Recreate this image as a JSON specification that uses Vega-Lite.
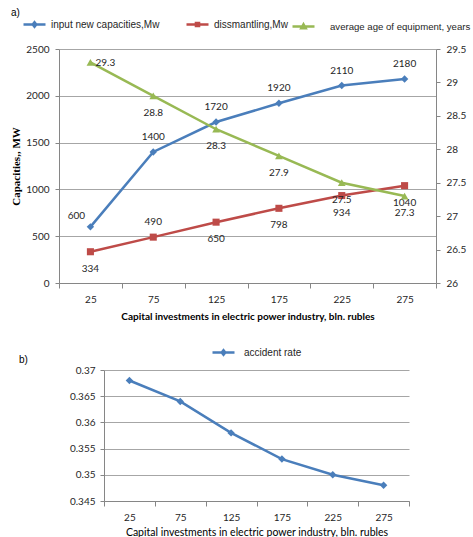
{
  "$schema": "https://vega.github.io/schema/vega-lite/v6.json",
  "padding": {"left": 10, "top": 8, "right": 0, "bottom": 0},
  "background": "white",
  "datasets": {
    "power": [
      {"inv": 25, "newcap": 600, "dismantle": 334, "age": 29.3},
      {"inv": 75, "newcap": 1400, "dismantle": 490, "age": 28.8},
      {"inv": 125, "newcap": 1720, "dismantle": 650, "age": 28.3},
      {"inv": 175, "newcap": 1920, "dismantle": 798, "age": 27.9},
      {"inv": 225, "newcap": 2110, "dismantle": 934, "age": 27.5},
      {"inv": 275, "newcap": 2180, "dismantle": 1040, "age": 27.3}
    ],
    "accidents": [
      {"inv": 25, "rate": 0.368},
      {"inv": 75, "rate": 0.364},
      {"inv": 125, "rate": 0.358},
      {"inv": 175, "rate": 0.353},
      {"inv": 225, "rate": 0.35},
      {"inv": 275, "rate": 0.348}
    ]
  },
  "config": {
    "view": {"stroke": null},
    "font": "Lato",
    "axis": {
      "labelFont": "Lato", "labelFontSize": 10, "labelColor": "#262626",
      "domainColor": "#868686", "tickColor": "#868686", "gridColor": "#a6a6a6",
      "titleFont": "Lato", "titleColor": "#000000"
    },
    "legend": {
      "labelFont": "Liberation Sans", "labelFontSize": 10, "labelLimit": 200,
      "labelColor": "#262626", "padding": 0, "orient": "none"
    },
    "text": {"font": "Lato", "fontSize": 10, "color": "#262626"}
  },
  "spacing": 34,
  "vconcat": [
    {
      "width": 377,
      "height": 234,
      "data": {"name": "power"},
      "title": {"text": "a)", "anchor": "start", "frame": "group", "dx": -48, "offset": -6,
                "font": "Liberation Sans", "fontSize": 10, "fontWeight": "normal", "color": "#000000"},
      "encoding": {
        "x": {
          "field": "inv", "type": "ordinal", "bandPosition": 0.5,
          "scale": {"type": "band", "paddingInner": 0, "paddingOuter": 0},
          "axis": {
            "title": "Capital investments in electric power industry, bln. rubles",
            "labelAngle": 0, "tickBand": "extent", "tickSize": 5, "labelPadding": 6,
            "titleFontWeight": "bold", "titleFontSize": 10, "titlePadding": 7, "grid": false
          }
        }
      },
      "layer": [
        {
          "encoding": {
            "y": {
              "field": "newcap", "type": "quantitative",
              "scale": {"domain": [0, 2500], "nice": false},
              "axis": {
                "orient": "left", "values": [0, 500, 1000, 1500, 2000, 2500], "format": "d",
                "grid": true, "tickSize": 4, "labelPadding": 6,
                "title": "Capacities,, MW", "titleFont": "Liberation Serif", "titleFontSize": 11,
                "titleFontWeight": "bold", "titlePadding": 4
              }
            }
          },
          "layer": [
            {
              "mark": {"type": "line", "strokeWidth": 2.5},
              "encoding": {
                "color": {
                  "datum": "input new capacities,Mw", "type": "nominal",
                  "scale": {"range": ["#4A7EBB"]},
                  "legend": {
                    "title": null, "legendX": -37, "legendY": -37,
                    "symbolType": "M-1,0H1M0,-0.2L0.16,0L0,0.2L-0.16,0Z", "symbolSize": 484,
                    "symbolStrokeWidth": 2.5, "labelOffset": 4,
                    "encode": {"symbols": {"update": {
                      "fill": {"value": "#4A7EBB"}, "stroke": {"value": "#4A7EBB"},
                      "strokeWidth": {"value": 2.5}, "opacity": {"value": 1},
                      "shape": {"value": "M-1,0H1M0,-0.2L0.16,0L0,0.2L-0.16,0Z"}
                    }}}
                  }
                }
              }
            },
            {"mark": {"type": "point", "shape": "diamond", "filled": true, "size": 55, "color": "#4A7EBB", "opacity": 1}},
            {
              "transform": [{"filter": "datum.inv != 25"}],
              "mark": {"type": "text", "dy": -15},
              "encoding": {"text": {"field": "newcap", "type": "nominal"}}
            },
            {
              "transform": [{"filter": "datum.inv == 25"}],
              "mark": {"type": "text", "dx": -14, "dy": -11},
              "encoding": {"text": {"field": "newcap", "type": "nominal"}}
            }
          ]
        },
        {
          "encoding": {
            "y": {
              "field": "dismantle", "type": "quantitative",
              "scale": {"domain": [0, 2500], "nice": false}, "axis": null
            }
          },
          "layer": [
            {
              "mark": {"type": "line", "strokeWidth": 2.5},
              "encoding": {
                "color": {
                  "datum": "dissmantling,Mw", "type": "nominal",
                  "scale": {"range": ["#BE4B48"]},
                  "legend": {
                    "title": null, "legendX": 126, "legendY": -37,
                    "symbolType": "M-1,0H1M-0.14,-0.14H0.14V0.14H-0.14Z", "symbolSize": 484,
                    "symbolStrokeWidth": 2.5, "labelOffset": 4,
                    "encode": {"symbols": {"update": {
                      "fill": {"value": "#BE4B48"}, "stroke": {"value": "#BE4B48"},
                      "strokeWidth": {"value": 2.5}, "opacity": {"value": 1},
                      "shape": {"value": "M-1,0H1M-0.14,-0.14H0.14V0.14H-0.14Z"}
                    }}}
                  }
                }
              }
            },
            {"mark": {"type": "point", "shape": "square", "filled": true, "size": 50, "color": "#BE4B48", "opacity": 1}},
            {
              "transform": [{"filter": "datum.inv != 75"}],
              "mark": {"type": "text", "dy": 17},
              "encoding": {"text": {"field": "dismantle", "type": "nominal"}}
            },
            {
              "transform": [{"filter": "datum.inv == 75"}],
              "mark": {"type": "text", "dy": -15},
              "encoding": {"text": {"field": "dismantle", "type": "nominal"}}
            }
          ]
        },
        {
          "encoding": {
            "y": {
              "field": "age", "type": "quantitative",
              "scale": {"domain": [26, 29.5], "nice": false},
              "axis": {
                "orient": "right", "values": [26, 26.5, 27, 27.5, 28, 28.5, 29, 29.5],
                "format": "~g", "grid": false, "tickSize": 4, "labelPadding": 6, "title": null
              }
            }
          },
          "layer": [
            {
              "mark": {"type": "line", "strokeWidth": 2.5},
              "encoding": {
                "color": {
                  "datum": "average age of equipment, years", "type": "nominal",
                  "scale": {"range": ["#98B954"]},
                  "legend": {
                    "title": null, "legendX": 232, "legendY": -35,
                    "symbolType": "M-1,0H1M0,-0.2L0.2,0.16H-0.2Z", "symbolSize": 484,
                    "symbolStrokeWidth": 2.5, "labelOffset": 14, "labelFontSize": 9.6,
                    "encode": {"symbols": {"update": {
                      "fill": {"value": "#98B954"}, "stroke": {"value": "#98B954"},
                      "strokeWidth": {"value": 2.5}, "opacity": {"value": 1},
                      "shape": {"value": "M-1,0H1M0,-0.2L0.2,0.16H-0.2Z"}
                    }}}
                  }
                }
              }
            },
            {"mark": {"type": "point", "shape": "triangle-up", "filled": true, "size": 60, "color": "#98B954", "opacity": 1}},
            {
              "transform": [{"filter": "datum.inv != 25"}],
              "mark": {"type": "text", "dy": 17},
              "encoding": {"text": {"field": "age", "type": "nominal"}}
            },
            {
              "transform": [{"filter": "datum.inv == 25"}],
              "mark": {"type": "text", "align": "left", "dx": 5, "dy": 1},
              "encoding": {"text": {"field": "age", "type": "nominal"}}
            }
          ]
        }
      ],
      "resolve": {"scale": {"y": "independent", "color": "independent"}, "axis": {"y": "independent"}}
    },
    {
      "width": 350,
      "height": 131,
      "data": {"name": "accidents"},
      "title": {"text": "b)", "anchor": "start", "frame": "group", "dx": -40, "offset": 0,
                "font": "Liberation Sans", "fontSize": 10, "fontWeight": "normal", "color": "#000000"},
      "encoding": {
        "x": {
          "field": "inv", "type": "ordinal", "bandPosition": 0.5,
          "scale": {"type": "band", "paddingInner": 0, "paddingOuter": 0, "range": [45, 350]},
          "axis": {
            "title": "Capital investments in electric power industry, bln. rubles",
            "labelAngle": 0, "tickBand": "extent", "tickSize": 5, "labelPadding": 6,
            "titleFontWeight": "normal", "titleFontSize": 10.5, "titlePadding": 5, "grid": false
          }
        },
        "y": {
          "field": "rate", "type": "quantitative",
          "scale": {"domain": [0.345, 0.37], "nice": false, "zero": false},
          "axis": {
            "values": [0.345, 0.35, 0.355, 0.36, 0.365, 0.37], "format": "~g", "offset": -45,
            "grid": true, "tickSize": 4, "labelPadding": 5, "title": null
          }
        }
      },
      "layer": [
        {
          "mark": {"type": "line", "strokeWidth": 2.5},
          "encoding": {
            "color": {
              "datum": "accident rate", "type": "nominal",
              "scale": {"range": ["#4A7EBB"]},
              "legend": {
                "title": null, "legendX": 152, "legendY": 291,
                "symbolType": "M-1,0H1M0,-0.2L0.16,0L0,0.2L-0.16,0Z", "symbolSize": 484,
                "symbolStrokeWidth": 2.5, "labelOffset": 8,
                "encode": {"symbols": {"update": {
                  "fill": {"value": "#4A7EBB"}, "stroke": {"value": "#4A7EBB"},
                  "strokeWidth": {"value": 2.5}, "opacity": {"value": 1},
                  "shape": {"value": "M-1,0H1M0,-0.2L0.16,0L0,0.2L-0.16,0Z"}
                }}}
              }
            }
          }
        },
        {"mark": {"type": "point", "shape": "diamond", "filled": true, "size": 55, "color": "#4A7EBB", "opacity": 1}}
      ]
    }
  ]
}
